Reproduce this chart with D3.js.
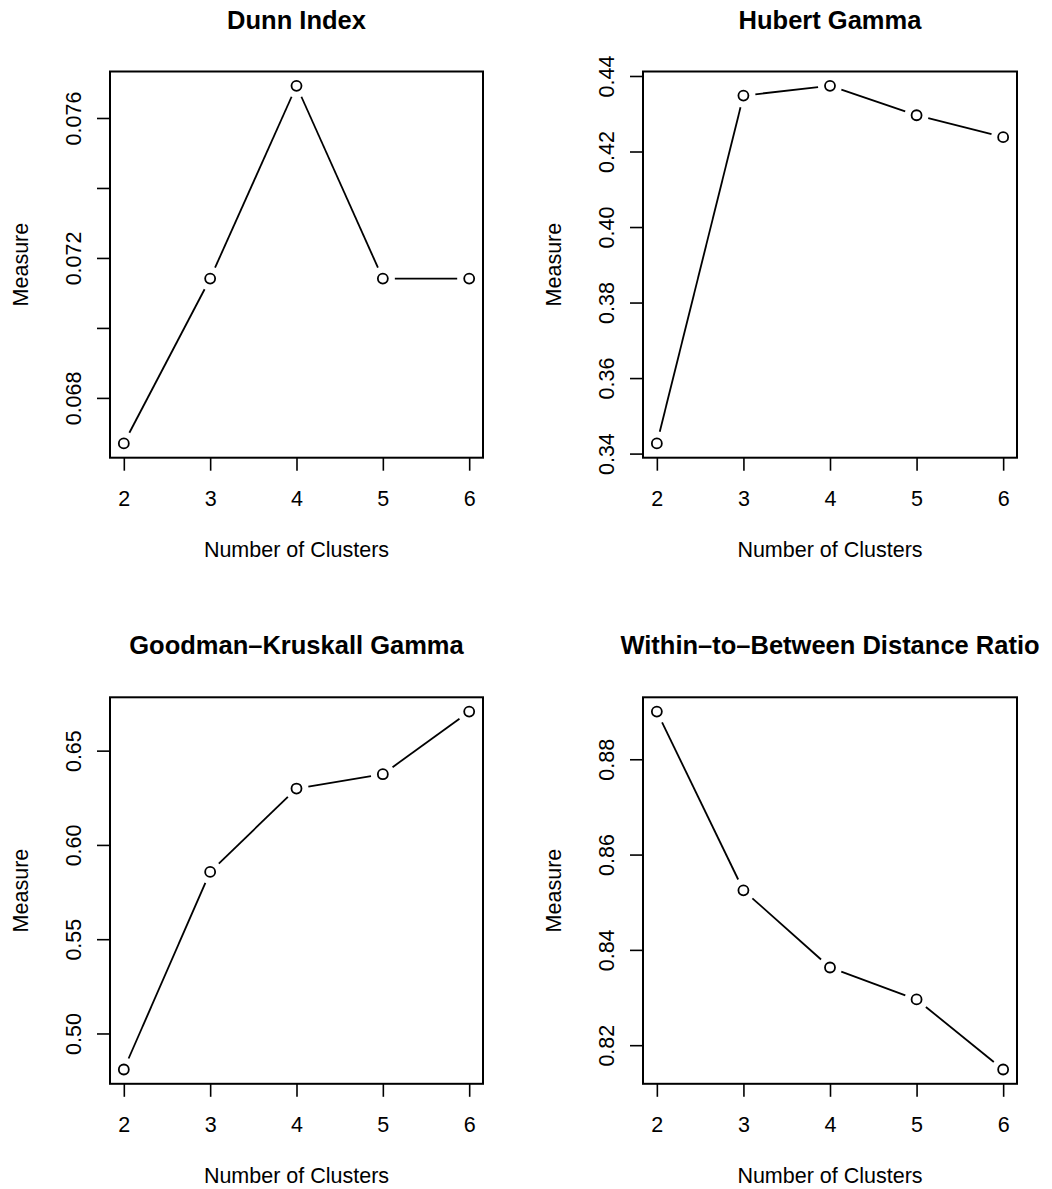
<!DOCTYPE html>
<html>
<head>
<meta charset="utf-8">
<script src="https://cdn.jsdelivr.net/npm/d3@7/dist/d3.min.js"></script>
<style>
  html, body { margin: 0; padding: 0; background: #fff; }
  svg { display: block; }
  text { font-family: "Liberation Sans", Arial, Helvetica, sans-serif; fill: #000; }
</style>
</head>
<body>
<svg id="chart" width="1052" height="1189"></svg>
<script>
// ---- data ----
const clusters = [2, 3, 4, 5, 6];

const dunnValues = [0.0667, 0.07141, 0.07692, 0.07141, 0.07141];
const hubertValues = [0.3427, 0.4348, 0.4374, 0.4296, 0.4238];
const goodmanValues = [0.4809, 0.5857, 0.6299, 0.6375, 0.6707];
const withinBetweenValues = [0.8900, 0.8525, 0.8363, 0.8296, 0.8149];

const titles = ["Dunn Index", "Hubert Gamma", "Goodman\u2013Kruskall Gamma", "Within\u2013to\u2013Between Distance Ratio"];

const dunnTicks = [0.068, 0.070, 0.072, 0.074, 0.076];
const dunnTickLabels = ["0.068", "", "0.072", "", "0.076"];
const hubertTicks = [0.34, 0.36, 0.38, 0.40, 0.42, 0.44];
const hubertTickLabels = ["0.34", "0.36", "0.38", "0.40", "0.42", "0.44"];
const goodmanTicks = [0.50, 0.55, 0.60, 0.65];
const goodmanTickLabels = ["0.50", "0.55", "0.60", "0.65"];
const withinBetweenTicks = [0.82, 0.84, 0.86, 0.88];
const withinBetweenTickLabels = ["0.82", "0.84", "0.86", "0.88"];

const xLabel = "Number of Clusters";
const yLabel = "Measure";

// ---- layout ----
const panels = [
  { title: titles[0], values: dunnValues, ticks: dunnTicks, labels: dunnTickLabels, box: [110, 483, 71.5, 457.7] },
  { title: titles[1], values: hubertValues, ticks: hubertTicks, labels: hubertTickLabels, box: [643, 1017, 71.5, 457.7] },
  { title: titles[2], values: goodmanValues, ticks: goodmanTicks, labels: goodmanTickLabels, box: [110, 483, 697.3, 1083.8] },
  { title: titles[3], values: withinBetweenValues, ticks: withinBetweenTicks, labels: withinBetweenTickLabels, box: [643, 1017, 697.3, 1083.8] }
];

const svg = d3.select("#chart");
const fontSize = 21.5;
const titleSize = 25.5;
const gap = 12;

function rRange(ext) {
  const d = ext[1] - ext[0];
  return [ext[0] - 0.04 * d, ext[1] + 0.04 * d];
}

panels.forEach(p => {
  const [L, R, T, B] = p.box;
  const x = d3.scaleLinear().domain(rRange(d3.extent(clusters))).range([L, R]);
  const y = d3.scaleLinear().domain(rRange(d3.extent(p.values))).range([B, T]);
  const g = svg.append("g");

  // y axis
  const ya = g.append("g").attr("transform", `translate(${L},0)`)
    .call(d3.axisLeft(y).tickValues(p.ticks).tickSize(13)
      .tickFormat((d, i) => p.labels[i]));
  ya.select(".domain").remove();
  ya.selectAll(".tick line").attr("stroke", "#000").attr("stroke-width", 1.6);
  ya.selectAll(".tick text")
    .attr("x", 0).attr("dy", null)
    .attr("text-anchor", "middle")
    .attr("transform", "translate(-29.5,0) rotate(-90)")
    .style("font-size", fontSize + "px")
    .style("font-family", '"Liberation Sans", Arial, sans-serif')
    .attr("fill", "#000");

  // x axis
  const xa = g.append("g").attr("transform", `translate(0,${B})`)
    .call(d3.axisBottom(x).tickValues(clusters).tickSize(13).tickFormat(d3.format("d")));
  xa.select(".domain").remove();
  xa.selectAll(".tick line").attr("stroke", "#000").attr("stroke-width", 1.6);
  xa.selectAll(".tick text")
    .attr("y", 48).attr("dy", null)
    .style("font-size", fontSize + "px")
    .style("font-family", '"Liberation Sans", Arial, sans-serif')
    .attr("fill", "#000");

  // box
  g.append("rect").attr("x", L).attr("y", T).attr("width", R - L).attr("height", B - T)
    .attr("fill", "none").attr("stroke", "#000").attr("stroke-width", 2);

  // line segments with gaps (type = "b")
  const pts = clusters.map((c, i) => [x(c), y(p.values[i])]);
  for (let i = 0; i < pts.length - 1; i++) {
    const [x1, y1] = pts[i], [x2, y2] = pts[i + 1];
    const len = Math.hypot(x2 - x1, y2 - y1);
    if (len <= 2 * gap) continue;
    const ux = (x2 - x1) / len, uy = (y2 - y1) / len;
    g.append("line")
      .attr("x1", x1 + ux * gap).attr("y1", y1 + uy * gap)
      .attr("x2", x2 - ux * gap).attr("y2", y2 - uy * gap)
      .attr("stroke", "#000").attr("stroke-width", 1.8);
  }
  g.selectAll("circle.pt").data(pts).enter().append("circle")
    .attr("class", "pt")
    .attr("cx", d => d[0]).attr("cy", d => d[1]).attr("r", 5)
    .attr("fill", "none").attr("stroke", "#000").attr("stroke-width", 1.8);

  // title
  g.append("text").attr("x", (L + R) / 2).attr("y", T - 43)
    .attr("text-anchor", "middle").style("font-weight", "bold")
    .style("font-size", titleSize + "px").text(p.title);

  // x label
  g.append("text").attr("x", (L + R) / 2).attr("y", B + 99.5)
    .attr("text-anchor", "middle").style("font-size", fontSize + "px").text(xLabel);

  // y label
  g.append("text")
    .attr("transform", `translate(${L - 82},${(T + B) / 2}) rotate(-90)`)
    .attr("text-anchor", "middle").style("font-size", fontSize + "px").text(yLabel);
});
</script>
</body>
</html>
